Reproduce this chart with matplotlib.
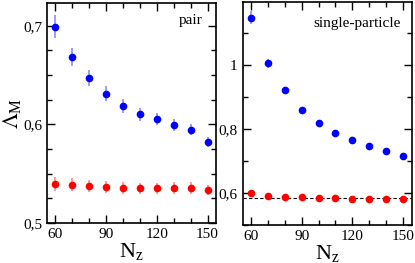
import numpy as np
import matplotlib
matplotlib.use("Agg")
import matplotlib.pyplot as plt
from matplotlib.ticker import MultipleLocator, FuncFormatter

nz = [60, 70, 80, 90, 100, 110, 120, 130, 140, 150]

# pair
pair_blue = [0.699, 0.668, 0.647, 0.631, 0.619, 0.610, 0.605, 0.5995, 0.5945, 0.582]
pair_blue_err = [0.0115, 0.009, 0.008, 0.0075, 0.007, 0.0065, 0.006, 0.006, 0.0055, 0.005]
pair_red = [0.5398, 0.539, 0.5375, 0.5365, 0.5355, 0.535, 0.535, 0.5355, 0.5355, 0.5335]
pair_red_err = [0.007, 0.007, 0.0065, 0.0065, 0.006, 0.006, 0.006, 0.006, 0.006, 0.0055]

# single-particle
sp_blue = [1.148, 1.005, 0.921, 0.860, 0.820, 0.788, 0.765, 0.746, 0.731, 0.716]
sp_blue_err = [0.02, 0.015, 0.011, 0.007, 0.005, 0.004, 0.003, 0.003, 0.003, 0.003]
sp_red = [0.599, 0.592, 0.589, 0.586, 0.585, 0.583, 0.582, 0.581, 0.581, 0.580]
sp_red_err = [0.002, 0.002, 0.002, 0.002, 0.002, 0.002, 0.002, 0.002, 0.002, 0.002]
sp_limit = 0.584

plt.rcParams["font.family"] = ["Liberation Serif", "DejaVu Serif"]
plt.rcParams["mathtext.fontset"] = "stix"


def comma(v, pos):
    s = "%g" % round(v, 3)
    return s.replace(".", ",")


fig = plt.figure(figsize=(4.15, 2.63), dpi=100)
ax1 = fig.add_axes([47 / 415, 40 / 263, 169 / 415, 220 / 263])
ax2 = fig.add_axes([242.5 / 415, 38 / 263, 169 / 415, 223 / 263])


def draw(ax, blue, berr, red, rerr):
    ax.errorbar(nz, blue, yerr=berr, fmt="o", color="#0000ff", ms=4.5,
                ecolor=(0.3, 0.3, 1.0, 0.55), elinewidth=1.4, capsize=0)
    ax.errorbar(nz, red, yerr=rerr, fmt="o", color="#ff0000", ms=4.5,
                ecolor=(1.0, 0.3, 0.3, 0.55), elinewidth=1.4, capsize=0)
    ax.set_xlim(55, 155)
    ax.xaxis.set_major_locator(MultipleLocator(30))
    ax.xaxis.set_minor_locator(MultipleLocator(10))
    ax.yaxis.set_major_formatter(FuncFormatter(comma))
    ax.tick_params(which="both", direction="in", top=True, right=True,
                   labelsize=11, width=1)
    ax.tick_params(which="major", length=6)
    ax.tick_params(which="minor", length=3.5)
    for sp in ax.spines.values():
        sp.set_linewidth(1.2)
    ax.set_xlabel(r"N$_\mathregular{z}$", fontsize=16, labelpad=0)


draw(ax1, pair_blue, pair_blue_err, pair_red, pair_red_err)
ax1.set_ylim(0.5, 0.723)
ax1.yaxis.set_major_locator(MultipleLocator(0.1))
ax1.yaxis.set_minor_locator(MultipleLocator(0.025))
ax1.set_ylabel(r"$\Lambda_\mathregular{M}$", fontsize=16, labelpad=0)
ax1.text(0.92, 0.92, "pair", transform=ax1.transAxes, ha="right", va="center", fontsize=11)

draw(ax2, sp_blue, sp_blue_err, sp_red, sp_red_err)
ax2.axhline(sp_limit, color="black", ls="--", lw=0.8, dashes=(3, 2), zorder=0)
ax2.set_ylim(0.5, 1.197)
ax2.yaxis.set_major_locator(MultipleLocator(0.2))
ax2.yaxis.set_minor_locator(MultipleLocator(0.1))
ax2.text(0.935, 0.905, "single-particle", transform=ax2.transAxes, ha="right", va="center", fontsize=11)

fig.savefig("out.png", dpi=100)
